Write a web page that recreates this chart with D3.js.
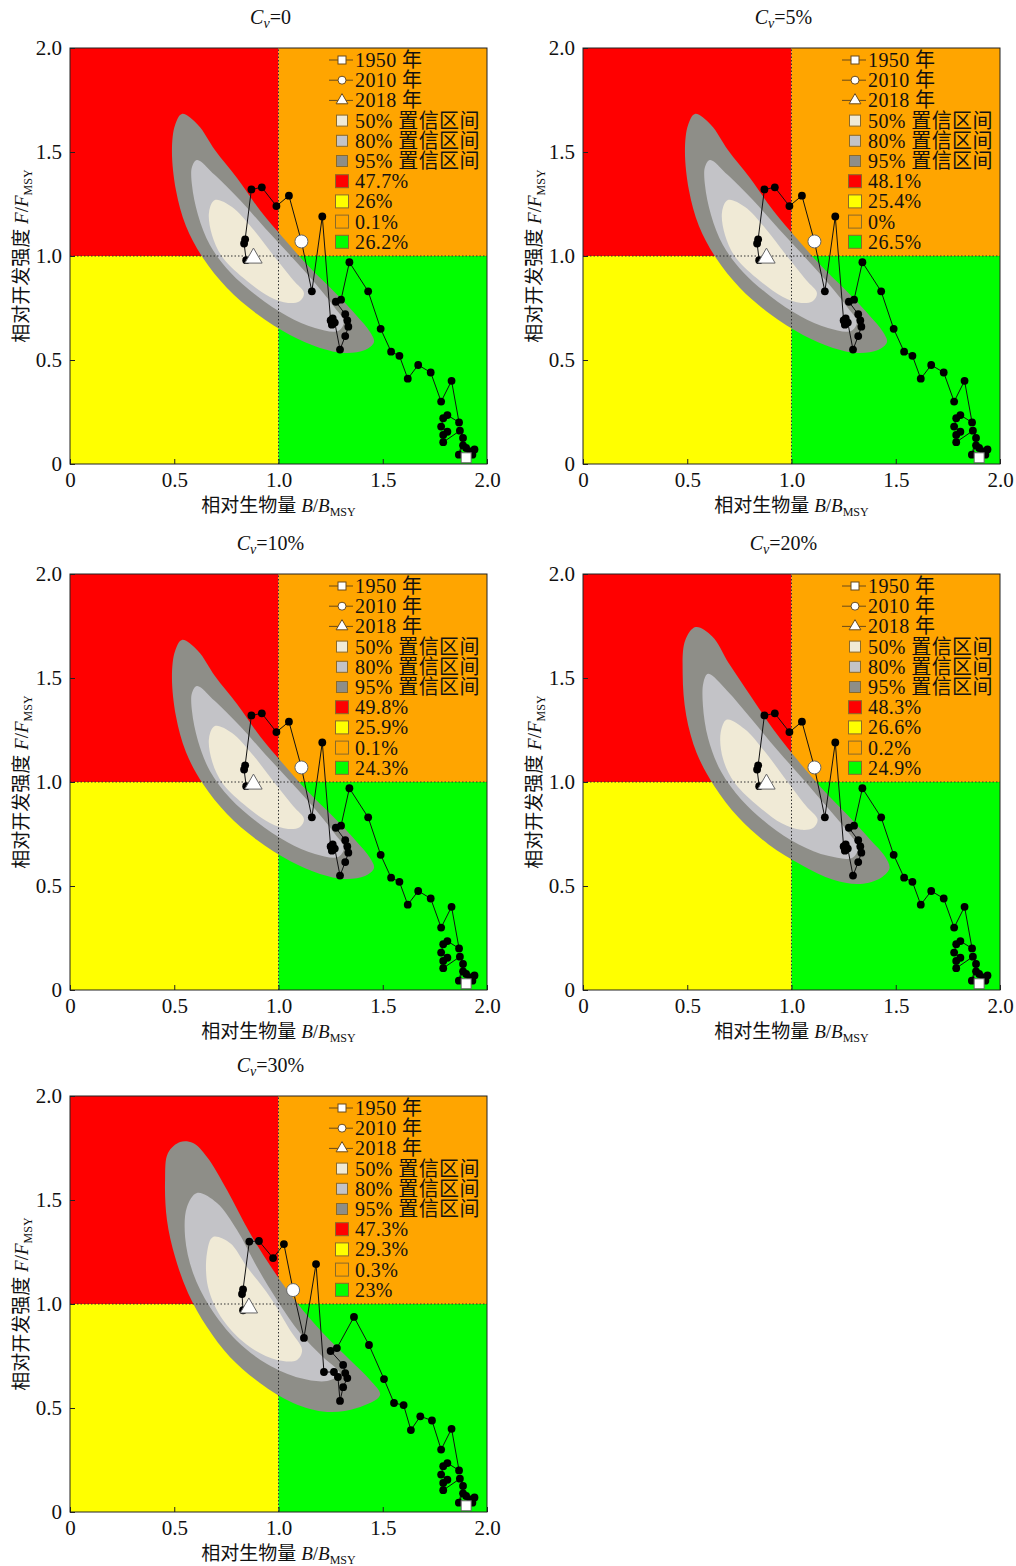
<!DOCTYPE html>
<html>
<head>
<meta charset="utf-8">
<script src="https://cdnjs.cloudflare.com/ajax/libs/d3/7.8.5/d3.min.js"></script>
<style>
body { margin: 0; background: #fff; }
svg text { font-family: "Liberation Serif", "Noto Sans CJK SC", serif; fill: #111; }
</style>
</head>
<body>
<div id="chart"></div>
<script>
// panel values
const cvLabels = ["0", "5%", "10%", "20%", "30%"];
const shareRed = [47.7, 48.1, 49.8, 48.3, 47.3];
const shareYellow = [26, 25.4, 25.9, 26.6, 29.3];
const shareOrange = [0.1, 0, 0.1, 0.2, 0.3];
const shareGreen = [26.2, 26.5, 24.3, 24.9, 23];
const axisTicks = [0, 0.5, 1, 1.5, 2];
const yearLabels = ["1950 年", "2010 年", "2018 年"];
const ciLabels = ["50% 置信区间", "80% 置信区间", "95% 置信区间"];

// B/Bmsy, F/Fmsy trajectory 1950 -> 2018 (Cv = 0 ... 20%)
const trajA = [
  [1.90, 0.03], [1.93, 0.045], [1.92, 0.06], [1.94, 0.07], [1.90, 0.077],
  [1.885, 0.09], [1.865, 0.045], [1.885, 0.125], [1.87, 0.16], [1.79, 0.105],
  [1.79, 0.14], [1.81, 0.155], [1.78, 0.18], [1.79, 0.22], [1.81, 0.235],
  [1.866, 0.20], [1.83, 0.40], [1.78, 0.30], [1.73, 0.44], [1.67, 0.476],
  [1.62, 0.41], [1.58, 0.52], [1.54, 0.54], [1.49, 0.65], [1.43, 0.83],
  [1.34, 0.97], [1.30, 0.79], [1.275, 0.78], [1.32, 0.72], [1.33, 0.69],
  [1.335, 0.66], [1.32, 0.615], [1.295, 0.55], [1.27, 0.68], [1.256, 0.67],
  [1.26, 0.70], [1.25, 0.69], [1.21, 1.19], [1.16, 0.83], [1.11, 1.07],
  [1.05, 1.29], [0.99, 1.24], [0.92, 1.33], [0.87, 1.32], [0.84, 1.08],
  [0.835, 1.06], [0.845, 0.98], [0.88, 0.99]
];
// trajectory for Cv = 30%
const trajC = [
  [1.90, 0.03], [1.93, 0.045], [1.92, 0.06], [1.94, 0.07], [1.90, 0.077],
  [1.885, 0.09], [1.865, 0.045], [1.885, 0.125], [1.87, 0.16], [1.79, 0.105],
  [1.79, 0.14], [1.81, 0.155], [1.78, 0.18], [1.79, 0.22], [1.81, 0.235],
  [1.866, 0.20], [1.83, 0.40], [1.78, 0.30], [1.736, 0.44], [1.68, 0.46],
  [1.635, 0.394], [1.60, 0.514], [1.554, 0.524], [1.506, 0.639], [1.434, 0.803],
  [1.362, 0.938], [1.28, 0.788], [1.25, 0.774], [1.31, 0.707], [1.32, 0.668],
  [1.33, 0.644], [1.31, 0.60], [1.295, 0.534], [1.285, 0.649], [1.266, 0.673],
  [1.218, 0.673], [1.18, 1.192], [1.122, 0.837], [1.07, 1.067],
  [1.026, 1.288], [0.974, 1.221], [0.906, 1.303], [0.86, 1.30], [0.83, 1.07],
  [0.825, 1.048], [0.83, 0.97], [0.858, 0.981]
];

// confidence region outlines (B, F)
const ci95A = [
  [0.537, 1.683], [0.614, 1.630], [0.695, 1.510], [0.801, 1.375], [0.915, 1.215],
  [1.020, 1.090], [1.140, 0.955], [1.265, 0.830], [1.376, 0.712], [1.439, 0.635],
  [1.458, 0.587], [1.415, 0.548], [1.319, 0.534], [1.199, 0.558], [1.055, 0.620],
  [0.897, 0.721], [0.753, 0.846], [0.638, 0.990], [0.556, 1.144], [0.508, 1.317],
  [0.489, 1.510], [0.504, 1.630]
];
const ci80A = [
  [0.609, 1.462], [0.695, 1.389], [0.815, 1.269], [0.935, 1.135], [1.055, 1.005],
  [1.175, 0.870], [1.271, 0.750], [1.314, 0.683], [1.285, 0.639], [1.175, 0.654],
  [1.041, 0.712], [0.897, 0.808], [0.767, 0.923], [0.671, 1.053], [0.614, 1.197],
  [0.585, 1.341], [0.585, 1.428]
];
const ci50A = [
  [0.695, 1.269], [0.777, 1.236], [0.873, 1.135], [0.974, 1.005], [1.070, 0.885],
  [1.122, 0.822], [1.103, 0.784], [1.046, 0.774], [0.959, 0.803], [0.849, 0.880],
  [0.734, 0.990], [0.681, 1.101], [0.667, 1.212]
];
// Cv = 20%
const ci95B = [
  [0.540, 1.745], [0.620, 1.700], [0.700, 1.570], [0.800, 1.420], [0.915, 1.250],
  [1.025, 1.110], [1.145, 0.970], [1.270, 0.840], [1.380, 0.720], [1.450, 0.640],
  [1.470, 0.585], [1.430, 0.540], [1.330, 0.510], [1.200, 0.530], [1.050, 0.600],
  [0.890, 0.700], [0.745, 0.830], [0.630, 0.980], [0.545, 1.140], [0.495, 1.320],
  [0.478, 1.520], [0.490, 1.680]
];
const ci80B = [
  [0.600, 1.520], [0.690, 1.440], [0.810, 1.300], [0.935, 1.150], [1.055, 1.015],
  [1.175, 0.875], [1.275, 0.755], [1.320, 0.685], [1.290, 0.635], [1.175, 0.645],
  [1.035, 0.700], [0.890, 0.795], [0.760, 0.915], [0.662, 1.050], [0.600, 1.210],
  [0.575, 1.370], [0.578, 1.480]
];
const ci50B = [
  [0.690, 1.300], [0.775, 1.255], [0.873, 1.145], [0.974, 1.010], [1.070, 0.885],
  [1.125, 0.820], [1.105, 0.780], [1.046, 0.770], [0.955, 0.800], [0.845, 0.880],
  [0.728, 0.995], [0.672, 1.110], [0.660, 1.235]
];
// Cv = 30%
const ci95C = [
  [0.528, 1.779], [0.590, 1.774], [0.657, 1.707], [0.753, 1.548], [0.863, 1.341],
  [0.974, 1.163], [1.089, 1.005], [1.213, 0.861], [1.343, 0.731], [1.439, 0.635],
  [1.487, 0.563], [1.376, 0.500], [1.233, 0.481], [1.070, 0.524], [0.911, 0.620],
  [0.767, 0.745], [0.657, 0.889], [0.566, 1.053], [0.504, 1.226], [0.465, 1.404],
  [0.456, 1.596], [0.470, 1.726]
];
const ci80C = [
  [0.609, 1.534], [0.705, 1.486], [0.801, 1.356], [0.897, 1.178], [0.993, 1.019],
  [1.103, 0.861], [1.213, 0.745], [1.295, 0.663], [1.233, 0.630], [1.103, 0.644],
  [0.945, 0.712], [0.801, 0.822], [0.671, 0.986], [0.590, 1.149], [0.552, 1.322],
  [0.561, 1.466]
];
const ci50C = [
  [0.686, 1.322], [0.767, 1.293], [0.849, 1.178], [0.959, 1.034], [1.055, 0.875],
  [1.113, 0.779], [1.089, 0.731], [0.993, 0.731], [0.863, 0.793], [0.734, 0.923],
  [0.662, 1.082], [0.657, 1.245]
];

const colors = {
  red: "#ff0000", yellow: "#ffff00", orange: "#ffa500", green: "#00ff00",
  ci50: "#f0ead6", ci80: "#c3c3c7", ci95: "#8e8e88"
};

const W = 1016, H = 1566;
const plotW = 417, plotH = 416;
const origins = [[70, 48], [583, 48], [70, 574], [583, 574], [70, 1096]];
const trajByPanel = [trajA, trajA, trajA, trajA, trajC];
const ciByPanel = [
  [ci95A, ci80A, ci50A], [ci95A, ci80A, ci50A], [ci95A, ci80A, ci50A],
  [ci95B, ci80B, ci50B], [ci95C, ci80C, ci50C]
];

const svg = d3.select("#chart").append("svg")
  .attr("width", W).attr("height", H);
svg.append("rect").attr("width", W).attr("height", H).attr("fill", "#fff");

const x = d3.scaleLinear().domain([0, 2]).range([0, plotW]);
const y = d3.scaleLinear().domain([0, 2]).range([plotH, 0]);
const fmt = d => d === 0 ? "0" : d3.format(".1f")(d);

const line = d3.line().x(d => x(d[0])).y(d => y(d[1]));
const blob = d3.line().x(d => x(d[0])).y(d => y(d[1]))
  .curve(d3.curveCatmullRomClosed.alpha(0.5));

cvLabels.forEach((cv, i) => {
  const [ox, oy] = origins[i];
  const g = svg.append("g").attr("transform", `translate(${ox},${oy})`);

  // quadrants
  const quads = [
    { x0: 0, x1: 1, y0: 1, y1: 2, c: colors.red },
    { x0: 1, x1: 2, y0: 1, y1: 2, c: colors.orange },
    { x0: 0, x1: 1, y0: 0, y1: 1, c: colors.yellow },
    { x0: 1, x1: 2, y0: 0, y1: 1, c: colors.green }
  ];
  g.selectAll("rect.q").data(quads).enter().append("rect")
    .attr("class", "q")
    .attr("x", d => x(d.x0)).attr("y", d => y(d.y1))
    .attr("width", d => x(d.x1) - x(d.x0)).attr("height", d => y(d.y0) - y(d.y1))
    .attr("fill", d => d.c);

  // confidence regions
  const [c95, c80, c50] = ciByPanel[i];
  g.append("path").attr("d", blob(c95)).attr("fill", colors.ci95);
  g.append("path").attr("d", blob(c80)).attr("fill", colors.ci80);
  g.append("path").attr("d", blob(c50)).attr("fill", colors.ci50);

  // reference lines
  g.append("line").attr("x1", x(1)).attr("x2", x(1)).attr("y1", y(0)).attr("y2", y(2))
    .attr("stroke", "#333").attr("stroke-width", 1).attr("stroke-dasharray", "1.5,2");
  g.append("line").attr("x1", x(0)).attr("x2", x(2)).attr("y1", y(1)).attr("y2", y(1))
    .attr("stroke", "#333").attr("stroke-width", 1).attr("stroke-dasharray", "1.5,2");

  // trajectory
  const traj = trajByPanel[i];
  g.append("path").attr("d", line(traj)).attr("fill", "none")
    .attr("stroke", "#111").attr("stroke-width", 1);
  g.selectAll("circle.pt").data(traj.slice(1, -1)).enter().append("circle")
    .attr("class", "pt")
    .attr("cx", d => x(d[0])).attr("cy", d => y(d[1])).attr("r", 3.9)
    .attr("fill", "#000");

  const p1950 = traj[0], p2010 = traj[traj.length - 9], p2018 = traj[traj.length - 1];
  g.append("rect").attr("x", x(p1950[0]) - 5).attr("y", y(p1950[1]) - 5)
    .attr("width", 10).attr("height", 10).attr("fill", "#fff").attr("stroke", "#666");
  g.append("circle").attr("cx", x(p2010[0])).attr("cy", y(p2010[1])).attr("r", 6.5)
    .attr("fill", "#fff").attr("stroke", "#666");
  g.append("path").attr("transform", `translate(${x(p2018[0])},${y(p2018[1])})`)
    .attr("d", d3.symbol(d3.symbolTriangle, 130)).attr("fill", "#fff").attr("stroke", "#666");

  // frame
  g.append("rect").attr("width", plotW).attr("height", plotH)
    .attr("fill", "none").attr("stroke", "#222").attr("stroke-width", 1);

  // axes
  const xa = g.append("g").attr("transform", `translate(0,${plotH})`)
    .call(d3.axisBottom(x).tickValues(axisTicks).tickFormat(fmt)
      .tickSizeInner(-5).tickSizeOuter(0).tickPadding(8));
  const ya = g.append("g")
    .call(d3.axisLeft(y).tickValues(axisTicks).tickFormat(fmt)
      .tickSizeInner(-5).tickSizeOuter(0).tickPadding(8));
  [xa, ya].forEach(a => {
    a.select(".domain").remove();
    a.selectAll("text").style("font-size", "21px").style("font-family", "Liberation Serif").attr("fill", "#111");
    a.selectAll("line").attr("stroke", "#222");
  });

  // title
  const t = g.append("text").attr("x", plotW / 2 - 8).attr("y", -24)
    .attr("text-anchor", "middle").style("font-size", "20px");
  t.append("tspan").attr("font-style", "italic").text("C");
  t.append("tspan").attr("font-style", "italic").attr("font-size", "14px").attr("dy", 4).text("v");
  t.append("tspan").attr("dy", -4).text("=" + cv);

  // x label
  const xl = g.append("text").attr("x", plotW / 2).attr("y", plotH + 48)
    .attr("text-anchor", "middle").style("font-size", "19px");
  xl.append("tspan").text("相对生物量 ");
  xl.append("tspan").attr("font-style", "italic").text("B");
  xl.append("tspan").text("/");
  xl.append("tspan").attr("font-style", "italic").text("B");
  xl.append("tspan").attr("font-size", "12px").attr("dy", 4).text("MSY");

  // y label
  const yl = g.append("text")
    .attr("transform", `translate(-42,${plotH / 2}) rotate(-90)`)
    .attr("text-anchor", "middle").style("font-size", "19px");
  yl.append("tspan").text("相对开发强度 ");
  yl.append("tspan").attr("font-style", "italic").text("F");
  yl.append("tspan").text("/");
  yl.append("tspan").attr("font-style", "italic").text("F");
  yl.append("tspan").attr("font-size", "12px").attr("dy", 4).text("MSY");

  // legend
  const lg = g.append("g").attr("transform", `translate(${plotW - 145},12)`);
  const rowH = 20.2;
  const symbols = ["square", "circle", "triangle"];
  yearLabels.forEach((lab, k) => {
    const r = lg.append("g").attr("transform", `translate(0,${k * rowH})`);
    r.append("line").attr("x1", -13).attr("x2", 11).attr("stroke", "#6b4a1a");
    if (symbols[k] === "square") {
      r.append("rect").attr("x", -4).attr("y", -4).attr("width", 8).attr("height", 8)
        .attr("fill", "#fff").attr("stroke", "#6b4a1a");
    } else if (symbols[k] === "circle") {
      r.append("circle").attr("r", 4).attr("fill", "#fff").attr("stroke", "#6b4a1a");
    } else {
      r.append("path").attr("d", d3.symbol(d3.symbolTriangle, 60)).attr("fill", "#fff").attr("stroke", "#6b4a1a");
    }
    r.append("text").attr("x", 13).attr("dy", "0.35em").style("font-size", "20px")
      .style("letter-spacing", "0.4px").text(lab);
  });
  const swatches = [
    { c: colors.ci50, t: ciLabels[0], s: 11 },
    { c: colors.ci80, t: ciLabels[1], s: 11 },
    { c: colors.ci95, t: ciLabels[2], s: 11 },
    { c: colors.red, t: shareRed[i] + "%", s: 13 },
    { c: colors.yellow, t: shareYellow[i] + "%", s: 13 },
    { c: colors.orange, t: shareOrange[i] + "%", s: 13 },
    { c: colors.green, t: shareGreen[i] + "%", s: 13 }
  ];
  swatches.forEach((sw, k) => {
    const r = lg.append("g").attr("transform", `translate(0,${(k + 3) * rowH})`);
    r.append("rect").attr("x", -sw.s / 2).attr("y", -sw.s / 2)
      .attr("width", sw.s).attr("height", sw.s)
      .attr("fill", sw.c).attr("stroke", "#8a6a2a").attr("stroke-width", 1);
    r.append("text").attr("x", 13).attr("dy", "0.35em").style("font-size", "20px")
      .style("letter-spacing", "0.4px").text(sw.t);
  });
});
</script>
</body>
</html>
